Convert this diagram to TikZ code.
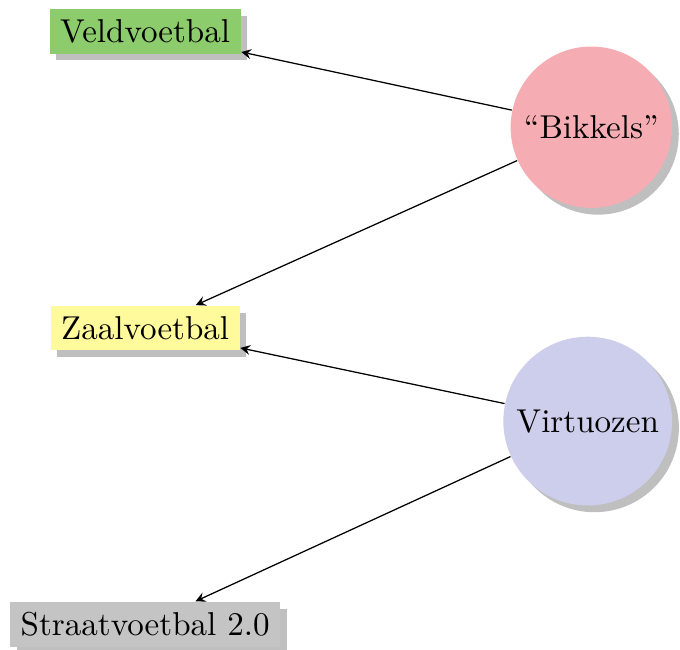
\documentclass[tikz,border=0pt]{standalone}
\usetikzlibrary{shadows}
\definecolor{veldgroen}{RGB}{140,204,108}
\definecolor{zaalgeel}{RGB}{255,250,155}
\definecolor{straatgrijs}{RGB}{196,196,196}
\definecolor{bikkelrood}{RGB}{245,172,178}
\definecolor{virtuoosblauw}{RGB}{205,205,236}
\begin{document}
\begin{tikzpicture}[->, >=stealth, font=\fontsize{10.5}{12.5}\selectfont, vak/.style={rectangle, drop shadow}, groep/.style={circle, drop shadow}]
		\useasboundingbox (-1.62,0.35) rectangle (5.97,-6.90);
		\node (veld) [vak, fill=veldgroen] {Veldvoetbal};
		\node (zaal) [vak, fill=zaalgeel, below of = veld, node distance=3.31cm] {Zaalvoetbal};
		\node (straat) [vak, fill=straatgrijs, below of = zaal, node distance=3.31cm] {Straatvoetbal 2.0};
		\node (bikkels) [groep, fill=bikkelrood, right of = veld, node distance=4.98cm, yshift=-1.07cm] {``Bikkels''};
		\node (virtuozen) [groep, fill=virtuoosblauw, right of = zaal, node distance=4.94cm, yshift=-1.04cm] {Virtuozen};
		\draw (bikkels) -> (veld);
		\draw (bikkels) -> (zaal);
		\draw (virtuozen) -> (zaal);
		\draw (virtuozen) -> (straat);
		\end{tikzpicture}
\end{document}
